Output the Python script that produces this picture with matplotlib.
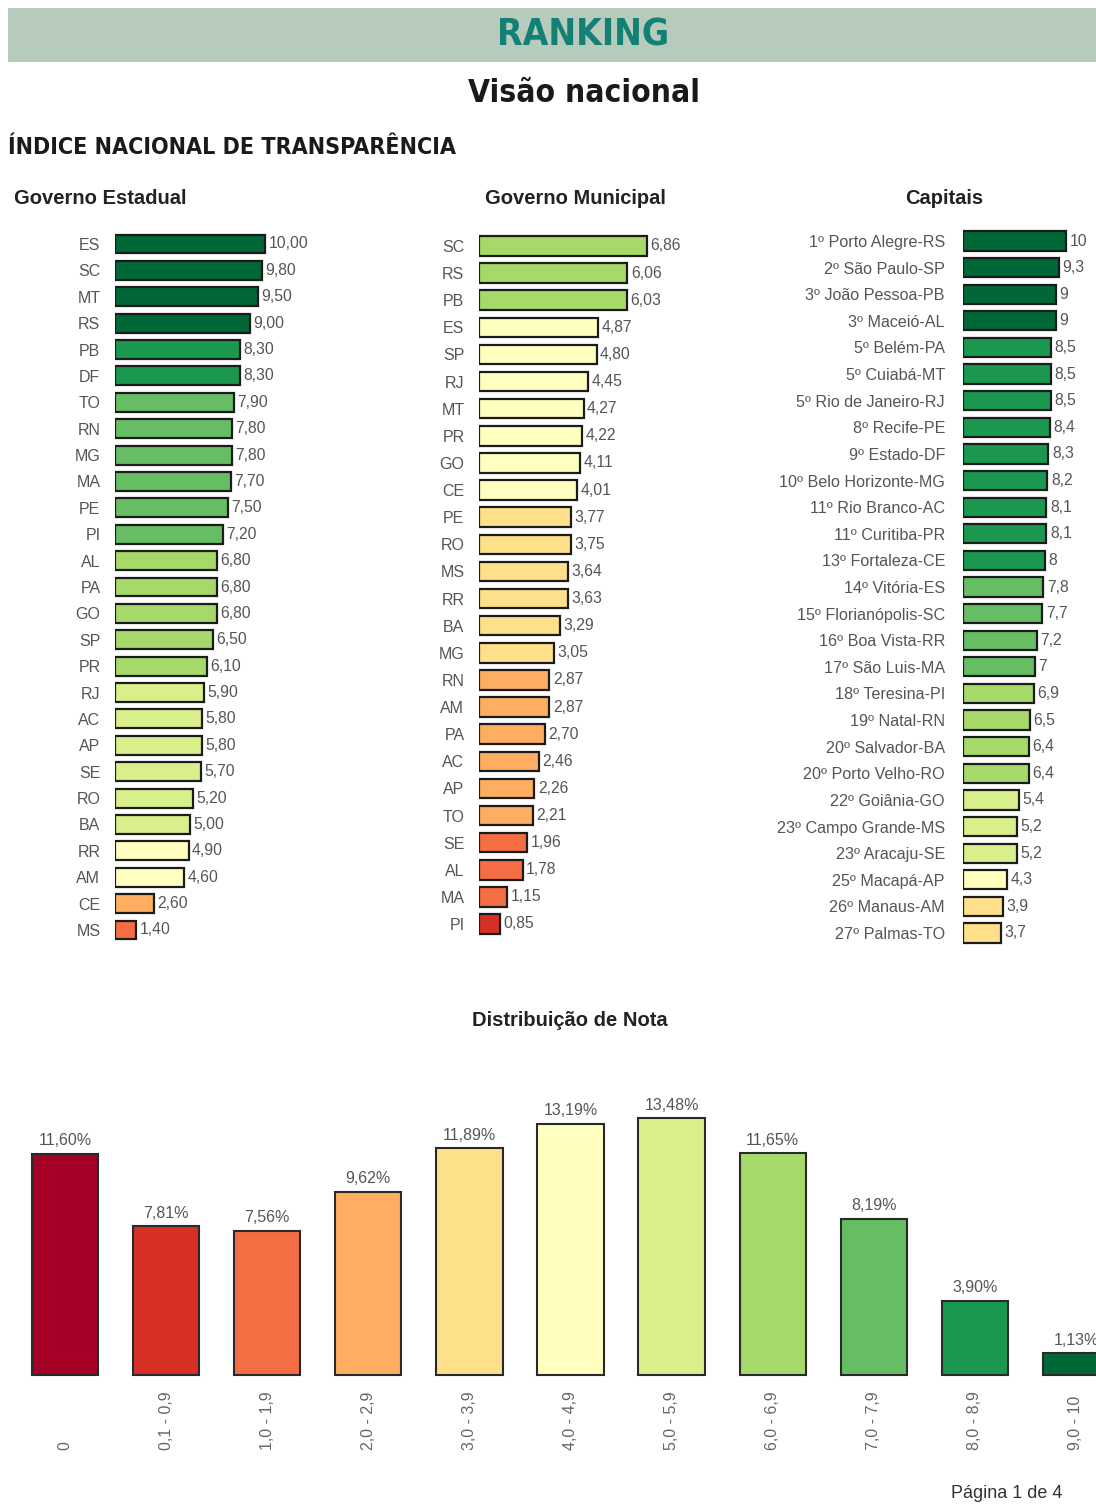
import matplotlib
matplotlib.use('Agg')
import matplotlib.pyplot as plt
from matplotlib.patches import Rectangle
from matplotlib import font_manager as fm

# ---------------- data ----------------
estadual_labels = ["ES", "SC", "MT", "RS", "PB", "DF", "TO", "RN", "MG", "MA", "PE", "PI", "AL", "PA",
                   "GO", "SP", "PR", "RJ", "AC", "AP", "SE", "RO", "BA", "RR", "AM", "CE", "MS"]
estadual_values = [10.00, 9.80, 9.50, 9.00, 8.30, 8.30, 7.90, 7.80, 7.80, 7.70, 7.50, 7.20, 6.80, 6.80,
                   6.80, 6.50, 6.10, 5.90, 5.80, 5.80, 5.70, 5.20, 5.00, 4.90, 4.60, 2.60, 1.40]

municipal_labels = ["SC", "RS", "PB", "ES", "SP", "RJ", "MT", "PR", "GO", "CE", "PE", "RO", "MS",
                    "RR", "BA", "MG", "RN", "AM", "PA", "AC", "AP", "TO", "SE", "AL", "MA", "PI"]
municipal_values = [6.86, 6.06, 6.03, 4.87, 4.80, 4.45, 4.27, 4.22, 4.11, 4.01, 3.77, 3.75, 3.64,
                    3.63, 3.29, 3.05, 2.87, 2.87, 2.70, 2.46, 2.26, 2.21, 1.96, 1.78, 1.15, 0.85]

capitais_rank = [1, 2, 3, 3, 5, 5, 5, 8, 9, 10, 11, 11, 13, 14, 15, 16, 17, 18, 19, 20, 20, 22, 23, 23, 25, 26, 27]
capitais_names = ["Porto Alegre-RS", "São Paulo-SP", "João Pessoa-PB", "Maceió-AL", "Belém-PA",
                  "Cuiabá-MT", "Rio de Janeiro-RJ", "Recife-PE", "Estado-DF", "Belo Horizonte-MG",
                  "Rio Branco-AC", "Curitiba-PR", "Fortaleza-CE", "Vitória-ES", "Florianópolis-SC",
                  "Boa Vista-RR", "São Luis-MA", "Teresina-PI", "Natal-RN", "Salvador-BA",
                  "Porto Velho-RO", "Goiânia-GO", "Campo Grande-MS", "Aracaju-SE", "Macapá-AP",
                  "Manaus-AM", "Palmas-TO"]
capitais_values = [10, 9.3, 9, 9, 8.5, 8.5, 8.5, 8.4, 8.3, 8.2, 8.1, 8.1, 8, 7.8, 7.7, 7.2, 7, 6.9,
                   6.5, 6.4, 6.4, 5.4, 5.2, 5.2, 4.3, 3.9, 3.7]

dist_labels = ["0", "0,1 - 0,9", "1,0 - 1,9", "2,0 - 2,9", "3,0 - 3,9", "4,0 - 4,9",
               "5,0 - 5,9", "6,0 - 6,9", "7,0 - 7,9", "8,0 - 8,9", "9,0 - 10"]
dist_values = [11.60, 7.81, 7.56, 9.62, 11.89, 13.19, 13.48, 11.65, 8.19, 3.90, 1.13]

palette = ['#a50026', '#d73027', '#f46d43', '#fdae61', '#fee08b', '#ffffbf',
           '#d9ef8b', '#a6d96a', '#66bd63', '#1a9850', '#006837']


def bin_color(v):
    if v == 0:
        return palette[0]
    if v < 1:
        return palette[1]
    return palette[min(int(v) + 1, 10)]


# ---------------- fonts ----------------
def pick_condensed_bold():
    best = None
    for f in fm.fontManager.ttflist:
        nm = f.name.lower()
        path = f.fname.lower()
        is_cond = ('condensed' in nm or 'narrow' in nm or 'condensed' in str(f.stretch)
                   or 'condensed' in path or 'narrow' in path)
        try:
            w = int(f.weight)
        except Exception:
            w = 700 if 'bold' in str(f.weight) else 400
        if is_cond and w >= 700 and 'italic' not in str(f.style) and 'oblique' not in str(f.style):
            score = (0 if 'extra' in path or 'semi' in path else 1, -abs(w - 700))
            if best is None or score > best[0]:
                best = (score, f.fname)
    if best:
        return fm.FontProperties(fname=best[1])
    return fm.FontProperties(family=['Roboto', 'DejaVu Sans'], weight='bold')


COND_FP = pick_condensed_bold()
SANS = ['Liberation Sans', 'DejaVu Sans']

# ---------------- figure ----------------
W, H = 1096, 1505
fig = plt.figure(figsize=(W / 100, H / 100), dpi=100)
fig.patch.set_facecolor('white')


def px_axes(x0, y0, x1, y1):
    return fig.add_axes([x0 / W, 1 - y1 / H, (x1 - x0) / W, (y1 - y0) / H])


def fx(x):
    return x / W


def fy(y):
    return 1 - y / H


renderer = fig.canvas.get_renderer()


def fit_width(t, target_w):
    bb = t.get_window_extent(renderer)
    if bb.width > 0:
        t.set_fontsize(t.get_fontsize() * target_w / bb.width)


# header band
fig.patches.append(Rectangle((fx(8), fy(62)), fx(1096) - fx(8), fy(8) - fy(62),
                             transform=fig.transFigure, facecolor='#b7cbbd', edgecolor='none', zorder=0))
t1 = fig.text(fx(583), fy(35), "RANKING", ha='center', va='center', fontsize=30,
              color='#138075', fontproperties=COND_FP.copy())
t1.set_fontsize(30)
fit_width(t1, 172)
t2 = fig.text(fx(584), fy(94), "Visão nacional", ha='center', va='center',
              color='#1a1a1a', fontproperties=COND_FP.copy())
t2.set_fontsize(28)
fit_width(t2, 232)
t3 = fig.text(fx(8), fy(147), "ÍNDICE NACIONAL DE TRANSPARÊNCIA", ha='left', va='center',
              color='#1a1a1a', fontproperties=COND_FP.copy())
t3.set_fontsize(19)
fit_width(t3, 447)

for x, s in [(14, "Governo Estadual"), (485, "Governo Municipal"), (905, "Capitais")]:
    fig.text(fx(x), fy(198), s, ha='left', va='center', fontsize=14.5,
             fontweight='bold', color='#222222', family=SANS)


def hbar_panel(x0, x1, y_first, y_last, xmax, labels, values, fmt, pad, label_fs=11.5):
    n = len(values)
    sp = (y_last - y_first) / (n - 1)
    ax = px_axes(x0, y_first - sp / 2, x1, y_last + sp / 2)
    ax.set_xlim(0, xmax)
    ax.set_ylim(n - 0.5, -0.5)
    ys = list(range(n))
    ax.barh(ys, values, height=0.72, color=[bin_color(v) for v in values],
            edgecolor='#1b1b1b', linewidth=1.6)
    for y, v in zip(ys, values):
        ax.annotate(fmt(v), (v, y), xytext=(2.5, 0), textcoords='offset points',
                    ha='left', va='center', fontsize=11.3, color='#555555', family=SANS)
    ax.set_yticks(ys)
    ax.set_yticklabels(labels, fontsize=label_fs, color='#555555', family=SANS)
    ax.tick_params(axis='y', length=0, pad=pad)
    ax.set_xticks([])
    for s in ax.spines.values():
        s.set_visible(False)
    ax.patch.set_alpha(0)
    return ax


def f2(v):
    return f"{v:.2f}".replace('.', ',')


def fg(v):
    return f"{v:g}".replace('.', ',')


hbar_panel(115, 340, 244, 930, 15, estadual_labels, estadual_values, f2, pad=10.5)
hbar_panel(479, 700, 246, 924, 221 / 24.5, municipal_labels, municipal_values, f2, pad=10.5)
cap_labels = [f"{r}º {n}" for r, n in zip(capitais_rank, capitais_names)]
hbar_panel(963, 1094, 241, 933, 131 / 10.3, cap_labels, capitais_values, fg, pad=13, label_fs=11.6)

# ---------------- distribution ----------------
fig.text(fx(570), fy(1021), "Distribuição de Nota", ha='center', va='center', fontsize=14.5,
         fontweight='bold', color='#222222', family=SANS)

step = 101.1
n = len(dist_values)
x_left = 65 - step / 2
ax = px_axes(x_left, 1375 - 19.05 * 15, x_left + step * n, 1375)
ax.set_xlim(-0.5, n - 0.5)
ax.set_ylim(0, 15)
xs = list(range(n))
ax.bar(xs, dist_values, width=0.655, color=[palette[i] for i in xs], edgecolor='#2a2a2a', linewidth=1.5,
       clip_on=False)
for x, v in zip(xs, dist_values):
    ax.annotate(f"{v:.2f}%".replace('.', ','), (x, v), xytext=(0, 4), textcoords='offset points',
                ha='center', va='bottom', fontsize=11.5, color='#555555', family=SANS)
for x, lab in zip(xs, dist_labels):
    ax.text(x, -75 / (19.05 * 15), lab, transform=ax.get_xaxis_transform(), rotation=90,
            ha='center', va='bottom', fontsize=11.5, color='#666666', family=SANS)
ax.set_xticks([])
ax.set_yticks([])
for s in ax.spines.values():
    s.set_visible(False)
ax.patch.set_alpha(0)

fig.text(fx(1062), fy(1493), "Página 1 de 4", ha='right', va='center', fontsize=13,
         color='#333333', family=SANS)

fig.savefig('out.png', dpi=100, facecolor='white')
